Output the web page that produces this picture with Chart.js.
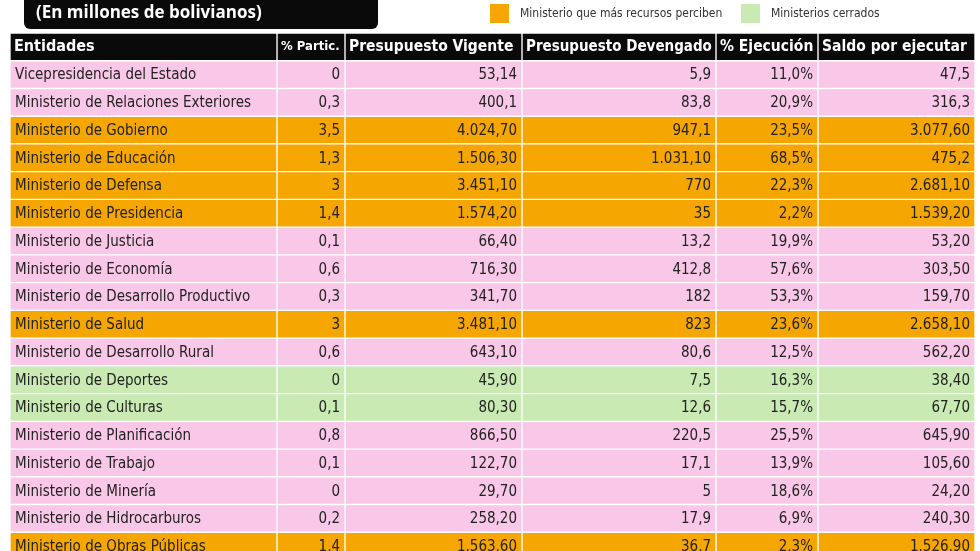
<!DOCTYPE html>
<html>
<head>
<meta charset="utf-8">
<script src="https://cdn.jsdelivr.net/npm/chart.js@4"></script>
<style>
  html, body { margin: 0; padding: 0; background: #fff; overflow: hidden; }
  #wrap { position: relative; width: 980px; height: 560px; }
</style>
</head>
<body>
<div id="wrap"><canvas id="tabla"></canvas></div>
<script>
const headers = ["Entidades", "% Partic.", "Presupuesto Vigente", "Presupuesto Devengado", "% Ejecución", "Saldo por ejecutar"];
const entidades = [
  "Vicepresidencia del Estado", "Ministerio de Relaciones Exteriores", "Ministerio de Gobierno",
  "Ministerio de Educación", "Ministerio de Defensa", "Ministerio de Presidencia", "Ministerio de Justicia",
  "Ministerio de Economía", "Ministerio de Desarrollo Productivo", "Ministerio de Salud",
  "Ministerio de Desarrollo Rural", "Ministerio de Deportes", "Ministerio de Culturas",
  "Ministerio de Planificación", "Ministerio de Trabajo", "Ministerio de Minería",
  "Ministerio de Hidrocarburos", "Ministerio de Obras Públicas"
];
const partic = ["0", "0,3", "3,5", "1,3", "3", "1,4", "0,1", "0,6", "0,3", "3", "0,6", "0", "0,1", "0,8", "0,1", "0", "0,2", "1,4"];
const vigente = ["53,14", "400,1", "4.024,70", "1.506,30", "3.451,10", "1.574,20", "66,40", "716,30", "341,70", "3.481,10", "643,10", "45,90", "80,30", "866,50", "122,70", "29,70", "258,20", "1.563,60"];
const devengado = ["5,9", "83,8", "947,1", "1.031,10", "770", "35", "13,2", "412,8", "182", "823", "80,6", "7,5", "12,6", "220,5", "17,1", "5", "17,9", "36,7"];
const ejecucion = ["11,0%", "20,9%", "23,5%", "68,5%", "22,3%", "2,2%", "19,9%", "57,6%", "53,3%", "23,6%", "12,5%", "16,3%", "15,7%", "25,5%", "13,9%", "18,6%", "6,9%", "2,3%"];
const saldo = ["47,5", "316,3", "3.077,60", "475,2", "2.681,10", "1.539,20", "53,20", "303,50", "159,70", "2.658,10", "562,20", "38,40", "67,70", "645,90", "105,60", "24,20", "240,30", "1.526,90"];
// tipo: n = normal, r = más recursos, c = cerrado
const tipo = ["n", "n", "r", "r", "r", "r", "n", "n", "n", "r", "n", "c", "c", "n", "n", "n", "n", "r"];

const colEdges = [10, 277, 345, 522, 716, 818, 975];
const colores = { n: "#f9c8e8", r: "#f6a600", c: "#c9eab3", h: "#0a0a0a" };
const FONT = "'Liberation Sans Narrow', 'DejaVu Sans Condensed', 'Roboto', sans-serif";

const rowLabels = ["hdr"].concat(entidades);
const rowTipo = ["h"].concat(tipo);
const columnas = [entidades, partic, vigente, devengado, ejecucion, saldo];

const datasets = headers.map((h, c) => ({
  label: h,
  data: rowLabels.map(() => [colEdges[c], colEdges[c + 1]]),
  backgroundColor: rowTipo.map(t => colores[t]),
  borderColor: "#ffffff",
  borderWidth: 1,
  borderSkipped: false,
  barPercentage: 1,
  categoryPercentage: 1,
  grouped: false
}));

// ajusta el tamaño de letra para que quepa en un ancho
function fitFont(ctx, text, weight, size, maxW) {
  let s = size;
  ctx.font = weight + " " + s + "px " + FONT;
  while (ctx.measureText(text).width > maxW && s > 9) {
    s -= 0.5;
    ctx.font = weight + " " + s + "px " + FONT;
  }
}

const textoPlugin = {
  id: "textoTabla",
  afterDatasetsDraw(chart) {
    const { ctx, scales: { x, y } } = chart;
    ctx.save();
    ctx.textBaseline = "middle";
    headers.forEach((h, c) => {
      const x0 = x.getPixelForValue(colEdges[c]);
      const x1 = x.getPixelForValue(colEdges[c + 1]);
      fitFont(ctx, h, "bold", 16, x1 - x0 - 8);
      ctx.fillStyle = "#ffffff";
      ctx.textAlign = "left";
      ctx.fillText(h, x0 + 4, y.getPixelForValue(0));
    });
    entidades.forEach((e, i) => {
      const yp = y.getPixelForValue(i + 1) + 1;
      ctx.font = "15px " + FONT;
      ctx.fillStyle = "#222222";
      columnas.forEach((col, c) => {
        if (c === 0) {
          ctx.textAlign = "left";
          ctx.fillText(col[i], x.getPixelForValue(colEdges[0]) + 5, yp);
        } else {
          ctx.textAlign = "right";
          ctx.fillText(col[i], x.getPixelForValue(colEdges[c + 1]) - 5, yp);
        }
      });
    });

    // titulo y leyenda
    ctx.fillStyle = "#0a0a0a";
    ctx.beginPath();
    ctx.roundRect(24, -10, 354, 39, 6);
    ctx.fill();
    ctx.fillStyle = "#ffffff";
    ctx.font = "bold 17px 'Open Sans', sans-serif";
    ctx.textAlign = "left";
    ctx.fillText("(En millones de bolivianos)", 36, 13);
    ctx.fillStyle = colores.r;
    ctx.fillRect(490, 4, 19, 19);
    ctx.fillStyle = colores.c;
    ctx.fillRect(741, 4, 19, 19);
    ctx.fillStyle = "#333333";
    fitFont(ctx, "Ministerio que más recursos perciben", "normal", 16, 205);
    ctx.fillText("Ministerio que más recursos perciben", 520, 14);
    ctx.fillText("Ministerios cerrados", 771, 14);
    ctx.restore();
  }
};

new Chart(document.getElementById("tabla"), {
  type: "bar",
  data: { labels: rowLabels, datasets: datasets },
  options: {
    indexAxis: "y",
    responsive: true,
    maintainAspectRatio: false,
    animation: false,
    layout: { padding: { top: 33, bottom: 0, left: 0, right: 0 } },
    plugins: { legend: { display: false }, tooltip: { enabled: false } },
    scales: {
      x: { type: "linear", min: 0, max: 980, display: false },
      y: { display: false }
    }
  },
  plugins: [textoPlugin]
});
</script>
</body>
</html>
